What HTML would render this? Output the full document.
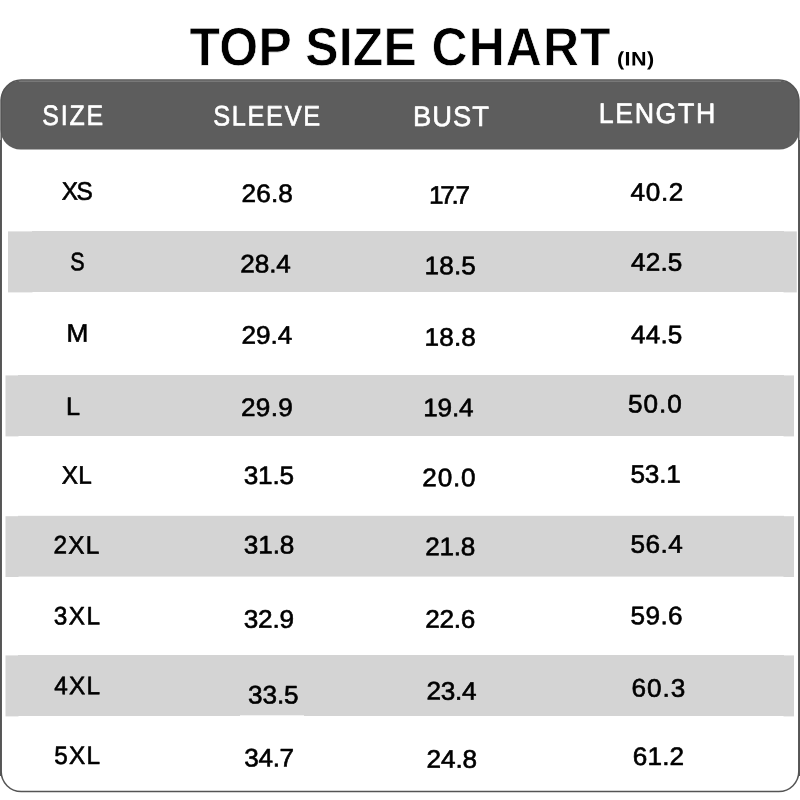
<!DOCTYPE html>
<html lang="en">
<head>
<meta charset="utf-8">
<title>Top Size Chart</title>
<style>
html,body{margin:0;padding:0;background:#fff;}
body{width:800px;height:800px;overflow:hidden;}
svg{display:block;}
text{font-family:"Liberation Sans",Arial,Helvetica,sans-serif;white-space:pre;stroke-linejoin:round;}
.title{font-size:53.9px;font-weight:bold;fill:#000;stroke:#fff;stroke-width:0.7px;}
.unit{font-size:19.6px;font-weight:bold;fill:#000;stroke:#000;stroke-width:0px;}
.head{font-size:28.2px;font-weight:normal;fill:#fff;stroke:#fff;stroke-width:0.65px;}
.cell{font-size:25.4px;font-weight:normal;fill:#000;stroke:#000;stroke-width:0.62px;}
</style>
</head>
<body>
<svg width="800" height="800" viewBox="0 0 800 800">
<rect x="0" y="0" width="800" height="800" fill="#ffffff"/>
<g fill="#d4d4d4">
<rect x="32" y="231" width="752" height="61"/><rect x="8" y="231.4" width="24.5" height="61"/><rect x="783.5" y="231.4" width="13.3" height="61"/>
<rect x="18" y="375" width="766" height="61"/><rect x="5.5" y="375.4" width="13" height="61"/><rect x="783.5" y="375.4" width="10.5" height="61"/>
<rect x="18" y="515.8" width="766" height="60.8"/><rect x="5.5" y="516.2" width="13" height="60.8"/><rect x="783.5" y="516.2" width="10.5" height="60.8"/>
<rect x="18" y="655" width="766" height="61"/><rect x="5.5" y="655.4" width="13" height="61"/><rect x="783.5" y="655.4" width="10.5" height="61"/>
</g>
<rect x="240" y="715.1" width="64" height="0.9" fill="#f4f4f4"/>
<rect x="0.6" y="80.6" width="798.8" height="68.9" rx="20" ry="20" fill="#5d5d5d"/>
<rect x="19" y="80.75" width="762" height="0.95" fill="#858585"/>
<rect x="1.2" y="80.1" width="797.6" height="711.5" rx="20" ry="20" fill="none" stroke="#555555" stroke-width="1.5"/>
<rect x="0" y="140" width="1.3" height="636" fill="#555555"/><rect x="798.7" y="140" width="1.3" height="636" fill="#555555"/>
<text class="title" transform="translate(189.5 65.18) skewY(0.05) scale(0.926 1)" textLength="245.51" lengthAdjust="spacing">TOP SIZE</text>
<text class="title" transform="translate(431.5 65.18) skewY(0.05) scale(0.926 1)" textLength="193.35" lengthAdjust="spacing">CHART</text>
<text class="unit" transform="translate(617 65.5) skewY(0.05) scale(1.1 1)" textLength="33.79" lengthAdjust="spacing">(IN)</text>
<text class="head" transform="translate(42.25 124.92) skewY(0.05) scale(0.885 1)" textLength="68.73" lengthAdjust="spacing">SIZE</text>
<text class="head" transform="translate(213.25 125.38) skewY(0.05) scale(0.9 1)" textLength="118.73" lengthAdjust="spacing">SLEEVE</text>
<text class="head" transform="translate(413 126.05) skewY(0.05) scale(0.97 1)" textLength="78.3" lengthAdjust="spacing">BUST</text>
<text class="head" transform="translate(598.75 123) skewY(0.05) scale(0.95 1)" textLength="122.64" lengthAdjust="spacing">LENGTH</text>
<text class="cell" transform="translate(61.75 199.75) skewY(0.05) scale(0.96 1)" textLength="32.43" lengthAdjust="spacing">XS</text>
<text class="cell" transform="translate(70.25 270.25) skewY(0.05) scale(0.846 1)">S</text>
<text class="cell" transform="translate(66.5 341.75) skewY(0.05) scale(1.0337 1)">M</text>
<text class="cell" transform="translate(66 415) skewY(0.05) scale(0.9944 1)">L</text>
<text class="cell" transform="translate(61.75 483.75) skewY(0.05) scale(0.96 1)" textLength="31.43" lengthAdjust="spacing">XL</text>
<text class="cell" transform="translate(53.5 553.62) skewY(0.05) scale(0.96 1)" textLength="47.79" lengthAdjust="spacing">2XL</text>
<text class="cell" transform="translate(53.75 624.38) skewY(0.05) scale(0.96 1)" textLength="48.31" lengthAdjust="spacing">3XL</text>
<text class="cell" transform="translate(54.25 694.25) skewY(0.05) scale(0.96 1)" textLength="47.79" lengthAdjust="spacing">4XL</text>
<text class="cell" transform="translate(54.25 764) skewY(0.05) scale(0.96 1)" textLength="47.79" lengthAdjust="spacing">5XL</text>
<text class="cell" transform="translate(241.5 201.88) skewY(0.05) scale(1.03 1)" textLength="49.91" lengthAdjust="spacing">26.8</text>
<text class="cell" transform="translate(240.25 272.5) skewY(0.05) scale(1.03 1)" textLength="49.19" lengthAdjust="spacing">28.4</text>
<text class="cell" transform="translate(241.5 343.75) skewY(0.05) scale(1.03 1)" textLength="49.43" lengthAdjust="spacing">29.4</text>
<text class="cell" transform="translate(241 416) skewY(0.05) scale(1.03 1)" textLength="50.4" lengthAdjust="spacing">29.9</text>
<text class="cell" transform="translate(243.75 484) skewY(0.05) scale(1.03 1)" textLength="48.94" lengthAdjust="spacing">31.5</text>
<text class="cell" transform="translate(243.75 553.5) skewY(0.05) scale(1.03 1)" textLength="49.19" lengthAdjust="spacing">31.8</text>
<text class="cell" transform="translate(243.75 627.75) skewY(0.05) scale(1.03 1)" textLength="48.94" lengthAdjust="spacing">32.9</text>
<text class="cell" transform="translate(248 703.5) skewY(0.05) scale(1.03 1)" textLength="49.19" lengthAdjust="spacing">33.5</text>
<text class="cell" transform="translate(244.25 766.5) skewY(0.05) scale(1.03 1)" textLength="48.46" lengthAdjust="spacing">34.7</text>
<text class="cell" transform="translate(429 203.75) skewY(0.05) scale(1.03 1)" textLength="39.96" lengthAdjust="spacing">17.7</text>
<text class="cell" transform="translate(424.5 274.25) skewY(0.05) scale(1.03 1)" textLength="49.91" lengthAdjust="spacing">18.5</text>
<text class="cell" transform="translate(424.5 345.75) skewY(0.05) scale(1.03 1)" textLength="49.91" lengthAdjust="spacing">18.8</text>
<text class="cell" transform="translate(423.25 416.25) skewY(0.05) scale(1.03 1)" textLength="48.94" lengthAdjust="spacing">19.4</text>
<text class="cell" transform="translate(422.25 486.25) skewY(0.05) scale(1.03 1)" textLength="51.86" lengthAdjust="spacing">20.0</text>
<text class="cell" transform="translate(425.25 555.25) skewY(0.05) scale(1.03 1)" textLength="48.7" lengthAdjust="spacing">21.8</text>
<text class="cell" transform="translate(425.25 627.75) skewY(0.05) scale(1.03 1)" textLength="48.7" lengthAdjust="spacing">22.6</text>
<text class="cell" transform="translate(426.5 699.62) skewY(0.05) scale(1.03 1)" textLength="48.7" lengthAdjust="spacing">23.4</text>
<text class="cell" transform="translate(426.5 767.75) skewY(0.05) scale(1.03 1)" textLength="49.19" lengthAdjust="spacing">24.8</text>
<text class="cell" transform="translate(630.5 200.75) skewY(0.05) scale(1.03 1)" textLength="51.37" lengthAdjust="spacing">40.2</text>
<text class="cell" transform="translate(631 270.75) skewY(0.05) scale(1.03 1)" textLength="49.91" lengthAdjust="spacing">42.5</text>
<text class="cell" transform="translate(631 343.25) skewY(0.05) scale(1.03 1)" textLength="49.91" lengthAdjust="spacing">44.5</text>
<text class="cell" transform="translate(628 412.5) skewY(0.05) scale(1.03 1)" textLength="52.34" lengthAdjust="spacing">50.0</text>
<text class="cell" transform="translate(630.5 482.75) skewY(0.05) scale(1.03 1)" textLength="48.94" lengthAdjust="spacing">53.1</text>
<text class="cell" transform="translate(630.5 552.75) skewY(0.05) scale(1.03 1)" textLength="50.88" lengthAdjust="spacing">56.4</text>
<text class="cell" transform="translate(630.5 624.25) skewY(0.05) scale(1.03 1)" textLength="50.64" lengthAdjust="spacing">59.6</text>
<text class="cell" transform="translate(631.5 696.62) skewY(0.05) scale(1.03 1)" textLength="52.34" lengthAdjust="spacing">60.3</text>
<text class="cell" transform="translate(632.75 765) skewY(0.05) scale(1.03 1)" textLength="49.91" lengthAdjust="spacing">61.2</text>
</svg>
</body>
</html>
